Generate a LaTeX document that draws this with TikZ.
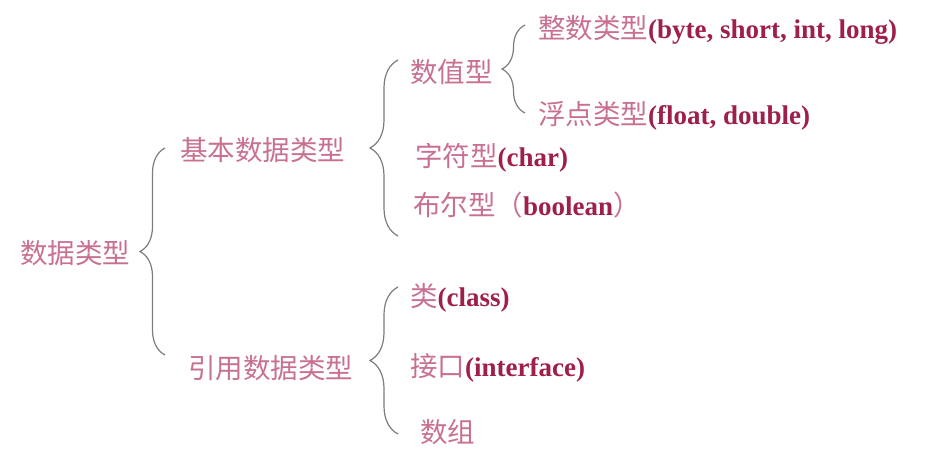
\documentclass[tikz,border=0pt]{standalone}
\usepackage{fontspec}
\setmainfont{Liberation Serif}
\newfontfamily\cjk{Noto Sans CJK SC}
\usetikzlibrary{decorations.pathreplacing}
\definecolor{zhpink}{RGB}{200,112,145}
\definecolor{enred}{RGB}{158,30,76}
\definecolor{bracegray}{RGB}{125,125,125}
\newcommand{\zh}[1]{{\fontsize{27.5}{30}\cjk\color{zhpink}#1}}
\newcommand{\en}[1]{{\bfseries\color{enred}#1}}

\begin{document}
\begin{tikzpicture}[
    x=1pt, y=-1pt,
    item/.style={anchor=west, inner sep=0pt, font=\fontsize{27}{30}\selectfont},
    brc/.style={decorate, decoration={brace, amplitude=#1}, draw=bracegray, line width=1.2pt}
]
\useasboundingbox (0,0) rectangle (930,458);
% level 1
\node[item] (types)   at (20,253)  {\zh{数据类型}};
% level 2
\node[item] (basic)   at (180,150) {\zh{基本数据类型}};
\node[item] (ref)     at (188,368) {\zh{引用数据类型}};
% level 3
\node[item] (numeric) at (410,72)  {\zh{数值型}};
\node[item] (chr)     at (415,158) {\zh{字符型}\en{(char)}};
\node[item] (bool)    at (413,205) {\zh{布尔型（}\en{boolean}\zh{）}};
\node[item] (cls)     at (410,298) {\zh{类}\en{(class)}};
\node[item] (iface)   at (410,368) {\zh{接口}\en{(interface)}};
\node[item] (arr)     at (420,432) {\zh{数组}};
% level 4
\node[item] (intg)    at (538,30)  {\zh{整数类型}\en{(byte, short, int, long)}};
\node[item] (flt)     at (538,116) {\zh{浮点类型}\en{(float, double)}};
% brace ends
\coordinate (types-t)   at (165,148);
\coordinate (types-b)   at (165,355);
\coordinate (basic-t)   at (398,60);
\coordinate (basic-b)   at (398,236);
\coordinate (numeric-t) at (525,25);
\coordinate (numeric-b) at (525,113);
\coordinate (ref-t)     at (398,287);
\coordinate (ref-b)     at (398,434);
% braces
\draw[brc=25] (types-b) -- (types-t);
\draw[brc=28] (basic-b) -- (basic-t);
\draw[brc=23] (numeric-b) -- (numeric-t);
\draw[brc=28] (ref-b) -- (ref-t);
\end{tikzpicture}
\end{document}
